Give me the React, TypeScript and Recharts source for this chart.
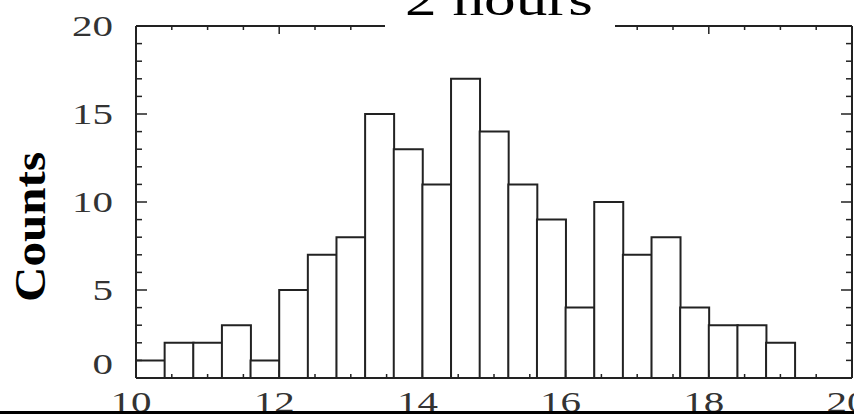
import { ComposedChart, Bar, XAxis, YAxis } from 'recharts';

const binStart = [
  10.0, 10.4, 10.8, 11.2, 11.6, 12.0, 12.4, 12.8, 13.2, 13.6, 14.0, 14.4, 14.8,
  15.2, 15.6, 16.0, 16.4, 16.8, 17.2, 17.6, 18.0, 18.4, 18.8, 19.2, 19.6,
];
const counts = [
  1, 2, 2, 3, 1, 5, 7, 8, 15, 13, 11, 17, 14,
  11, 9, 4, 10, 7, 8, 4, 3, 3, 2, 0, 0,
];
const xTicks = [
  10, 10.5, 11, 11.5, 12, 12.5, 13, 13.5, 14, 14.5, 15, 15.5, 16,
  16.5, 17, 17.5, 18, 18.5, 19, 19.5, 20,
];
const xLabels = [10, 12, 14, 16, 18, 20];
const yTicks = [0, 1, 2, 3, 4, 5, 6, 7, 8, 9, 10, 11, 12, 13, 14, 15, 16, 17, 18, 19, 20];
const yLabels = [0, 5, 10, 15, 20];

const W = 854;
const H = 414;
const INK = '#222';
const LABEL = '#333';

const data = binStart.map((b, i) => ({ bin: b, count: counts[i] }));

function BottomTick(props: any) {
  const { x, y, payload } = props;
  const v = payload.value;
  const major = xLabels.includes(v);
  return (
    <g>
      <line x1={x} x2={x} y1={y} y2={y - (major ? 8 : 4)} stroke={INK} strokeWidth={1.5} />
      {major && (
        <text
          x={x - 5}
          y={y + 34}
          textAnchor="middle"
          fontFamily="'Liberation Serif', serif"
          fontSize={30}
          fill={LABEL}
          textLength={41}
          lengthAdjust="spacingAndGlyphs"
        >
          {v}
        </text>
      )}
    </g>
  );
}

function TopTick(props: any) {
  const { x, y, payload } = props;
  const major = xLabels.includes(payload.value);
  return <line x1={x} x2={x} y1={y} y2={y + (major ? 8 : 4)} stroke={INK} strokeWidth={1.5} />;
}

function LeftTick(props: any) {
  const { x, y, payload } = props;
  const v = payload.value;
  const major = yLabels.includes(v);
  const s = String(v);
  return (
    <g>
      <line x1={x} x2={x + (major ? 11 : 6)} y1={y} y2={y} stroke={INK} strokeWidth={1.5} />
      {major && (
        <text
          x={x - 23}
          y={y + (v === 0 ? -14 : 0)}
          dy={10}
          textAnchor="end"
          fontFamily="'Liberation Serif', serif"
          fontSize={30}
          fill={LABEL}
          textLength={20.5 * s.length}
          lengthAdjust="spacingAndGlyphs"
        >
          {s}
        </text>
      )}
    </g>
  );
}

function RightTick(props: any) {
  const { x, y, payload } = props;
  const major = yLabels.includes(payload.value);
  return <line x1={x} x2={x - (major ? 11 : 6)} y1={y} y2={y} stroke={INK} strokeWidth={1.5} />;
}

export default function App() {
  return (
    <div style={{ position: 'absolute', left: 0, top: 0, width: W, height: H, background: '#fff', overflow: 'hidden' }}>
      <ComposedChart
        width={W}
        height={H}
        data={data}
        margin={{ top: 25, right: 1, bottom: 0, left: 76 }}
        barCategoryGap={0}
        barGap={0}
      >
        <XAxis xAxisId="cat" dataKey="bin" type="category" hide height={0} />
        <XAxis
          xAxisId="num"
          dataKey="bin"
          type="number"
          domain={[10, 20]}
          ticks={xTicks}
          allowDataOverflow
          height={36}
          tickSize={0}
          tickMargin={0}
          tick={<BottomTick />}
          axisLine={{ stroke: INK, strokeWidth: 2 }}
          tickLine={false}
          interval={0}
        />
        <XAxis
          xAxisId="top"
          orientation="top"
          dataKey="bin"
          type="number"
          domain={[10, 20]}
          ticks={xTicks}
          allowDataOverflow
          height={1}
          tickSize={0}
          tickMargin={0}
          tick={<TopTick />}
          axisLine={{ stroke: INK, strokeWidth: 2 }}
          tickLine={false}
          interval={0}
        />
        <YAxis
          yAxisId="left"
          type="number"
          domain={[0, 20]}
          ticks={yTicks}
          allowDataOverflow
          width={60}
          tickSize={0}
          tickMargin={0}
          tick={<LeftTick />}
          axisLine={{ stroke: INK, strokeWidth: 2 }}
          tickLine={false}
          interval={0}
        />
        <YAxis
          yAxisId="right"
          orientation="right"
          type="number"
          domain={[0, 20]}
          ticks={yTicks}
          allowDataOverflow
          width={1}
          tickSize={0}
          tickMargin={0}
          tick={<RightTick />}
          axisLine={{ stroke: INK, strokeWidth: 2 }}
          tickLine={false}
          interval={0}
        />
        <Bar
          xAxisId="cat"
          yAxisId="left"
          dataKey="count"
          fill="#fff"
          stroke={INK}
          strokeWidth={2}
          isAnimationActive={false}
        />
      </ComposedChart>
      <svg width={W} height={H} style={{ position: 'absolute', left: 0, top: 0, pointerEvents: 'none' }}>
        <rect x={385} y={0} width={230} height={38} fill="#fff" />
        <text
          x={499}
          y={15}
          textAnchor="middle"
          fontFamily="'Liberation Serif', serif"
          fontSize={46}
          fill="#000"
          textLength={188}
          lengthAdjust="spacingAndGlyphs"
        >
          2 hours
        </text>
        <text
          transform="translate(45, 227) rotate(-90)"
          textAnchor="middle"
          fontFamily="'Liberation Serif', serif"
          fontWeight="bold"
          fontSize={44}
          fill="#000"
          textLength={150}
          lengthAdjust="spacingAndGlyphs"
        >
          Counts
        </text>
        <rect x={0} y={411} width={W} height={3} fill="#000" />
      </svg>
    </div>
  );
}
